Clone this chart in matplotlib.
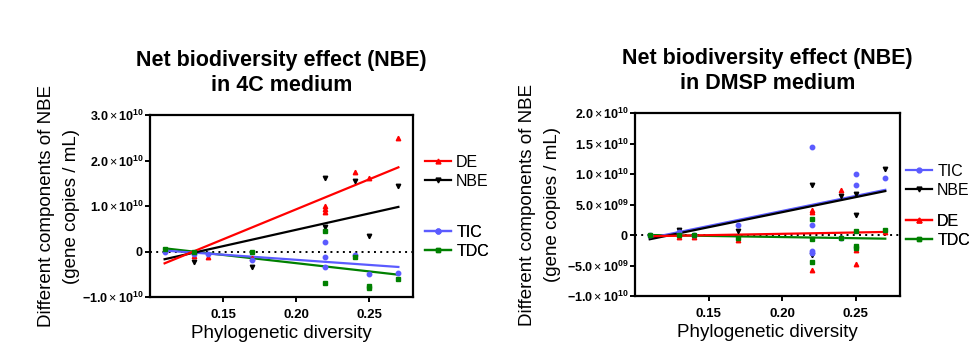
import matplotlib
matplotlib.use("Agg")
import matplotlib.pyplot as plt
from matplotlib.lines import Line2D
import numpy as np

plt.rcParams['font.family'] = ['Liberation Sans', 'DejaVu Sans']
plt.rcParams['mathtext.fontset'] = 'custom'
plt.rcParams['mathtext.rm'] = 'Liberation Sans'
plt.rcParams['mathtext.bf'] = 'Liberation Sans:bold'
plt.rcParams['mathtext.it'] = 'Liberation Sans:italic'

# ---------------- data (values in units of 1e10 gene copies / mL) -------------
x_ticks = [0.15, 0.20, 0.25]
x_tick_labels = ["0.15", "0.20", "0.25"]

# Left panel: 4C medium
c4_DE_x = [0.13, 0.14, 0.17, 0.22, 0.22, 0.22, 0.24, 0.25, 0.27]
c4_DE_y = [-0.10, -0.11, -0.14, 1.00, 0.93, 0.86, 1.75, 1.61, 2.49]
c4_NBE_x = [0.13, 0.17, 0.22, 0.22, 0.24, 0.25, 0.27]
c4_NBE_y = [-0.22, -0.33, 1.61, 0.54, 1.56, 0.35, 1.43]
c4_TIC_x = [0.11, 0.13, 0.14, 0.17, 0.22, 0.22, 0.22, 0.24, 0.25, 0.27]
c4_TIC_y = [0.00, -0.05, -0.05, -0.18, 0.20, -0.13, -0.33, -0.07, -0.50, -0.47]
c4_TDC_x = [0.11, 0.13, 0.17, 0.22, 0.22, 0.24, 0.25, 0.25, 0.27]
c4_TDC_y = [0.05, 0.00, 0.00, 0.45, -0.70, -0.11, -0.75, -0.80, -0.61]
c4_fit_x = [0.11, 0.27]
c4_fit_DE = [-0.26, 1.85]
c4_fit_NBE = [-0.17, 0.98]
c4_fit_TIC = [0.02, -0.34]
c4_fit_TDC = [0.07, -0.51]
c4_yticks = [-1.0, 0.0, 1.0, 2.0, 3.0]
c4_ytick_labels = ["-1.0|10|10", "0", "1.0|10|10", "2.0|10|10", "3.0|10|10"]

# Right panel: DMSP medium
dm_DE_x = [0.13, 0.14, 0.17, 0.22, 0.22, 0.22, 0.24, 0.25, 0.25, 0.27]
dm_DE_y = [-0.03, -0.04, -0.09, 0.41, 0.37, -0.57, 0.74, -0.25, -0.48, 0.05]
dm_NBE_x = [0.13, 0.17, 0.22, 0.22, 0.24, 0.25, 0.25, 0.27]
dm_NBE_y = [0.08, 0.07, 0.82, -0.33, 0.64, 0.67, 0.33, 1.09]
dm_TIC_x = [0.11, 0.13, 0.14, 0.17, 0.22, 0.22, 0.22, 0.22, 0.24, 0.25, 0.25, 0.27]
dm_TIC_y = [0.00, 0.05, 0.00, 0.16, 1.45, 0.16, -0.26, -0.30, -0.05, 1.00, 0.82, 0.94]
dm_TDC_x = [0.11, 0.13, 0.14, 0.17, 0.22, 0.22, 0.22, 0.24, 0.25, 0.25, 0.25, 0.27]
dm_TDC_y = [0.00, 0.00, 0.00, -0.05, 0.27, -0.07, -0.45, -0.05, 0.07, -0.18, -0.22, 0.08]
dm_fit_x = [0.11, 0.27]
dm_fit_DE = [-0.02, 0.05]
dm_fit_NBE = [-0.07, 0.72]
dm_fit_TIC = [-0.05, 0.74]
dm_fit_TDC = [0.00, -0.06]
dm_yticks = [-1.0, -0.5, 0.0, 0.5, 1.0, 1.5, 2.0]
dm_ytick_labels = ["-1.0|10|10", "-5.0|10|09", "0", "5.0|10|09", "1.0|10|10", "1.5|10|10", "2.0|10|10"]

titles = ["Net biodiversity effect (NBE)\nin 4C medium",
          "Net biodiversity effect (NBE)\nin DMSP medium"]
ylabel = "Different components of NBE\n(gene copies / mL)"
xlabel = "Phylogenetic diversity"

colors = {"DE": "#ff0000", "NBE": "#000000", "TIC": "#5b5bff", "TDC": "#008000"}
markers = {"DE": "^", "NBE": "v", "TIC": "o", "TDC": "s"}

W, H = 980, 364
fig = plt.figure(figsize=(W / 100, H / 100), dpi=100)


def px_axes(l, t, r, b):
    return fig.add_axes([l / W, 1 - b / H, (r - l) / W, (b - t) / H])


def sci_label(s):
    if "|" not in s:
        return r"$\mathbf{" + s + "}$"
    mant, base, exp = s.split("|")
    return (r"$\mathbf{" + mant + r"}\times\mathbf{" + base
            + "}^{\\mathbf{" + exp + "}}$")


def style_axes(ax, yticks, ylabels, ylim, title, ylabel_x_px, ax_left_px, ax_w_px):
    ax.set_xlim(0.10, 0.28)
    ax.set_ylim(*ylim)
    ax.set_xticks(x_ticks)
    ax.set_xticklabels(x_tick_labels, fontsize=9.5, fontweight='bold')
    ax.set_yticks(yticks)
    ax.set_yticklabels([sci_label(s) for s in ylabels], fontsize=9)
    for s in ax.spines.values():
        s.set_linewidth(1.6)
    ax.tick_params(direction='out', length=3.5, width=1.4, pad=1)
    ax.tick_params(axis='x', pad=5)
    ax.axhline(0, color='black', linestyle=(0, (1, 2.2)), linewidth=1.4, zorder=1)
    ax.set_title(title, fontsize=15.5, fontweight='bold', pad=17, linespacing=1.3)
    ax.set_xlabel(xlabel, fontsize=13.5, labelpad=3)
    ax.set_ylabel(ylabel, fontsize=13.5, linespacing=1.6, ha='center', va='center')
    ax.yaxis.set_label_coords((ylabel_x_px - ax_left_px) / ax_w_px, 0.5)


def draw(ax, series, fit_x, fits):
    for key, (xs, ys) in series.items():
        ax.plot(xs, ys, linestyle='none', marker=markers[key], color=colors[key],
                markersize=3.2, zorder=3)
    for key in ["TDC", "TIC", "NBE", "DE"]:
        if key in fits:
            ax.plot(fit_x, fits[key], color=colors[key], linewidth=1.6, zorder=2)


def handle(key):
    return Line2D([], [], color=colors[key], marker=markers[key], markersize=3.5,
                  linewidth=1.6)


# Left panel
ax1 = px_axes(150, 115, 413, 297)
style_axes(ax1, c4_yticks, c4_ytick_labels, (-1.0, 3.0), titles[0], 59, 150, 263)
draw(ax1, {"DE": (c4_DE_x, c4_DE_y), "NBE": (c4_NBE_x, c4_NBE_y),
           "TIC": (c4_TIC_x, c4_TIC_y), "TDC": (c4_TDC_x, c4_TDC_y)},
     c4_fit_x, {"DE": c4_fit_DE, "NBE": c4_fit_NBE, "TIC": c4_fit_TIC, "TDC": c4_fit_TDC})

# Right panel
ax2 = px_axes(635, 113, 900, 296)
style_axes(ax2, dm_yticks, dm_ytick_labels, (-1.0, 2.0), titles[1], 540, 635, 265)
draw(ax2, {"DE": (dm_DE_x, dm_DE_y), "NBE": (dm_NBE_x, dm_NBE_y),
           "TIC": (dm_TIC_x, dm_TIC_y), "TDC": (dm_TDC_x, dm_TDC_y)},
     dm_fit_x, {"TDC": dm_fit_TDC, "DE": dm_fit_DE, "NBE": dm_fit_NBE, "TIC": dm_fit_TIC})


def add_legend(ax, keys, y_center_px, top, bottom, x_off_px, w_px):
    h = bottom - top
    yc = (bottom - y_center_px) / h
    leg = ax.legend(handles=[handle(k) for k in keys], labels=keys,
                    loc='center left', bbox_to_anchor=(1 + x_off_px / w_px, yc),
                    frameon=False, fontsize=11.5, handlelength=1.6,
                    handletextpad=0.35, labelspacing=0.25, borderaxespad=0,
                    borderpad=0)
    ax.add_artist(leg)


add_legend(ax1, ["DE", "NBE"], 172, 115, 297, 12, 263)
add_legend(ax1, ["TIC", "TDC"], 242, 115, 297, 12, 263)
add_legend(ax2, ["TIC", "NBE"], 181, 113, 296, 6, 265)
add_legend(ax2, ["DE", "TDC"], 231, 113, 296, 6, 265)

fig.savefig("out.png", dpi=100)
